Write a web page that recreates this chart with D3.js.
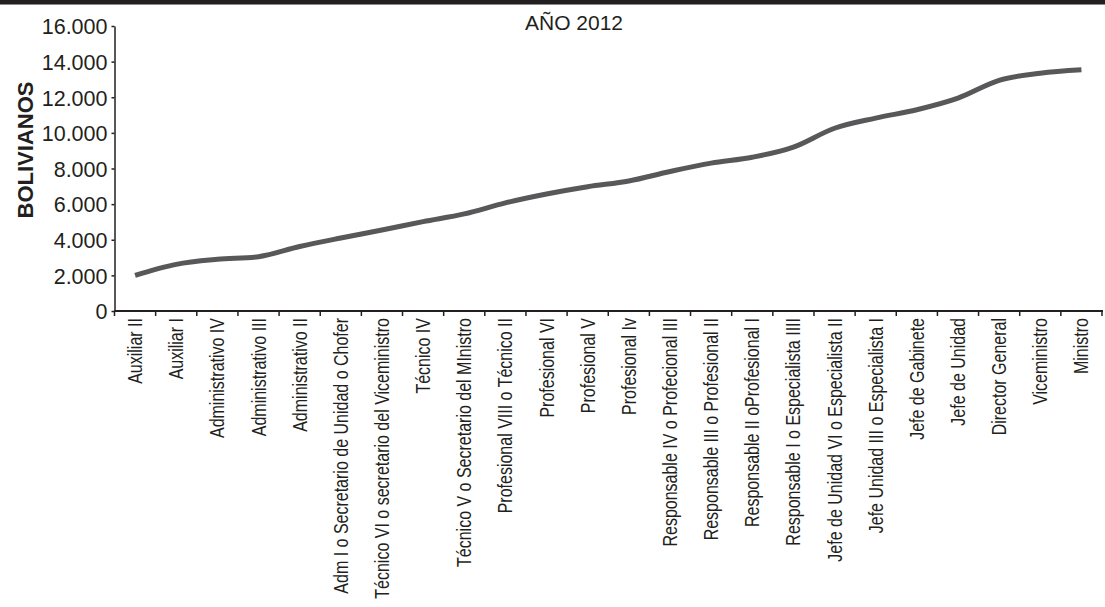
<!DOCTYPE html>
<html>
<head>
<meta charset="utf-8">
<script src="https://cdn.jsdelivr.net/npm/d3@7"></script>
<style>
  html, body { margin: 0; padding: 0; background: #fff; }
  svg { display: block; }
  text { font-family: "Liberation Sans", Arial, sans-serif; fill: #231f20; }
</style>
</head>
<body>
<svg id="chart" width="1105" height="607"></svg>
<script>
const categories = [
  "Auxiliar II", "Auxiliar I", "Administrativo IV", "Administrativo III", "Administrativo II",
  "Adm I o Secretario de Unidad o Chofer", "Técnico VI o secretario del Viceministro", "Técnico IV",
  "Técnico V o Secretario del MInistro", "Profesional VIII o Técnico II", "Profesional VI",
  "Profesional V", "Profesional Iv", "Responsable IV o Profecional III",
  "Responsable III o Profesional II", "Responsable II oProfesional I",
  "Responsable I o Especialista IIII", "Jefe de Unidad VI o Especialista II",
  "Jefe Unidad III o Especialista I", "Jefe de Gabinete", "Jefe de Unidad",
  "Director General", "Viceministro", "Ministro"
];
const salaries = [
  2000, 2620, 2900, 3050, 3620, 4100, 4550, 5020, 5450, 6070, 6570, 6980,
  7300, 7830, 8300, 8630, 9200, 10260, 10830, 11300, 11950, 12950, 13350, 13540
];
const yTicks = [0, 2000, 4000, 6000, 8000, 10000, 12000, 14000, 16000];
const yTickLabels = ["0", "2.000", "4.000", "6.000", "8.000", "10.000", "12.000", "14.000", "16.000"];
const title = "AÑO 2012";
const yTitle = "BOLIVIANOS";

const svg = d3.select("#chart");
const W = 1105, H = 607;
const mLeft = 114.5, mRight = 1102, mTop = 26, mBottom = 311;

// top banner
svg.append("rect").attr("x", 0).attr("y", 0).attr("width", W).attr("height", 4).attr("fill", "#231f20");
svg.append("rect").attr("x", 0).attr("y", 4).attr("width", W).attr("height", 1).attr("fill", "#8a8a8a");

const x = d3.scaleBand().domain(categories).range([mLeft, mRight]).padding(0);
const y = d3.scaleLinear().domain([0, 16000]).range([mBottom, mTop]);

// Y axis
const yAxis = d3.axisLeft(y).tickValues(yTicks)
  .tickFormat((d, i) => yTickLabels[i]).tickSize(3).tickSizeOuter(0).tickPadding(4);
const gy = svg.append("g").attr("transform", `translate(${mLeft},0)`).call(yAxis);
gy.select(".domain").attr("stroke", "#231f20").attr("stroke-width", 1.5);
gy.selectAll(".tick line").attr("stroke", "#231f20").attr("stroke-width", 1.5);
gy.selectAll(".tick text").style("font-size", "21.5px").attr("fill", "#231f20").attr("dy", "0.36em");

// X axis line + boundary ticks
svg.append("line").attr("x1", mLeft).attr("x2", mRight + 1).attr("y1", mBottom).attr("y2", mBottom)
  .attr("stroke", "#231f20").attr("stroke-width", 2);
const bounds = categories.map(c => x(c)).concat([x(categories[categories.length - 1]) + x.bandwidth()]);
svg.append("g").selectAll("line").data(bounds).join("line")
  .attr("x1", d => d).attr("x2", d => d).attr("y1", mBottom).attr("y2", mBottom + 5)
  .attr("stroke", "#231f20").attr("stroke-width", 1.5);

// X labels
svg.append("g").selectAll("text").data(categories).join("text")
  .attr("transform", d => `translate(${x(d) + x.bandwidth() / 2 + 7},${mBottom + 7}) rotate(-90) scale(0.8,1)`)
  .attr("text-anchor", "end")
  .style("font-size", "20px")
  .text(d => d);

// Line
const line = d3.line()
  .x((d, i) => x(categories[i]) + x.bandwidth() / 2)
  .y(d => y(d))
  .curve(d3.curveMonotoneX);
svg.append("path").datum(salaries).attr("d", line)
  .attr("fill", "none").attr("stroke", "#58585a").attr("stroke-width", 5);

// Title
svg.append("text").attr("x", 574).attr("y", 30).attr("text-anchor", "middle")
  .style("font-size", "21px").text(title);

// Y title
svg.append("text").attr("transform", `translate(33,150) rotate(-90)`)
  .attr("text-anchor", "middle").style("font-size", "22px").style("font-weight", "bold")
  .text(yTitle);
</script>
</body>
</html>
